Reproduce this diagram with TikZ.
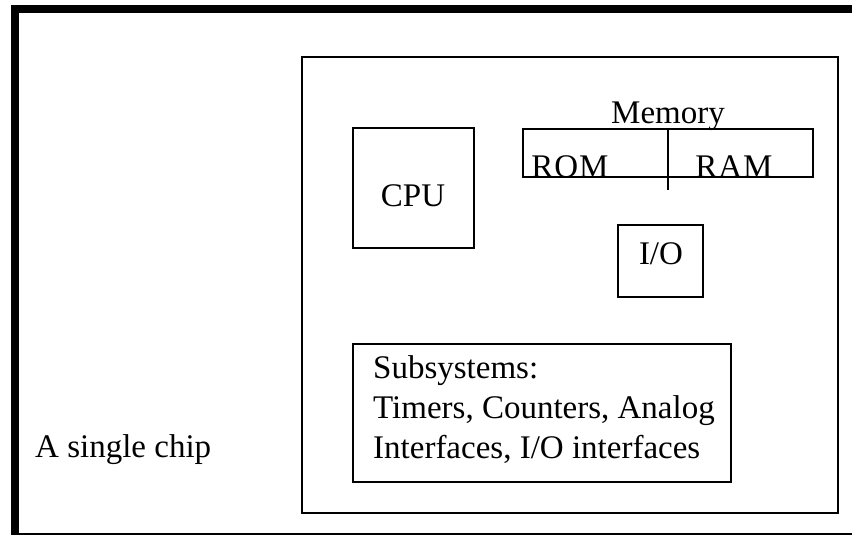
\documentclass[tikz,border=0pt]{standalone}
\usepackage{fontspec}
\setmainfont{Liberation Serif}
\begin{document}
\begin{tikzpicture}[x=1pt,y=-1pt,
  box/.style={draw=black, line width=1.8pt, rectangle, inner sep=0pt},
  txt/.style={inner sep=0pt, font=\fontsize{33}{40}\selectfont},
]
\useasboundingbox (0,0) rectangle (852,536);
% outer frame
\coordinate (tl) at (15,9);
\coordinate (tr) at (860,9);
\coordinate (bl) at (15,534);
\coordinate (br) at (860,534);
\draw[line width=8pt] (tr) -- (tl) -- (bl);
\draw[line width=2pt] (11,534) -- (br);
% chip
\node[box, minimum width=536pt, minimum height=456pt] (chip) at (570,285) {};
% CPU
\node[box, minimum width=121pt, minimum height=120pt] (cpu) at (413.5,188) {};
\node[txt, anchor=base] (cputxt) at (413,206) {CPU};
% memory
\node[box, minimum width=290pt, minimum height=48pt] (mem) at (668,153) {};
\coordinate (divtop) at (668,129);
\coordinate (divbot) at (668,190);
\draw[line width=1.8pt] (divtop) -- (divbot);
\node[txt, anchor=base] (memtxt) at (668,123) {Memory};
\begin{scope}
\clip (523,130) rectangle (813,176);
\node[txt, anchor=base] (rom) at (570,177) {R\kern1pt O\kern1pt M};
\node[txt, anchor=base] (ram) at (734,177) {R\kern1pt A\kern1pt M};
\end{scope}
% IO
\node[box, minimum width=85pt, minimum height=72pt] (io) at (660.5,261) {};
\node[txt, anchor=base] (iotxt) at (661,264) {I/O};
% subsystems
\node[box, minimum width=378pt, minimum height=138pt] (sub) at (542,413) {};
\node[txt, anchor=base west] (s1) at (373,378) {Subsystems:};
\node[txt, anchor=base west] (s2) at (373,418) {Timers, Counters, Analog};
\node[txt, anchor=base west] (s3) at (373,458) {Interfaces, I/O interfaces};
% label
\node[txt, anchor=base west] (lab) at (35,457) {A single chip};
\end{tikzpicture}
\end{document}
